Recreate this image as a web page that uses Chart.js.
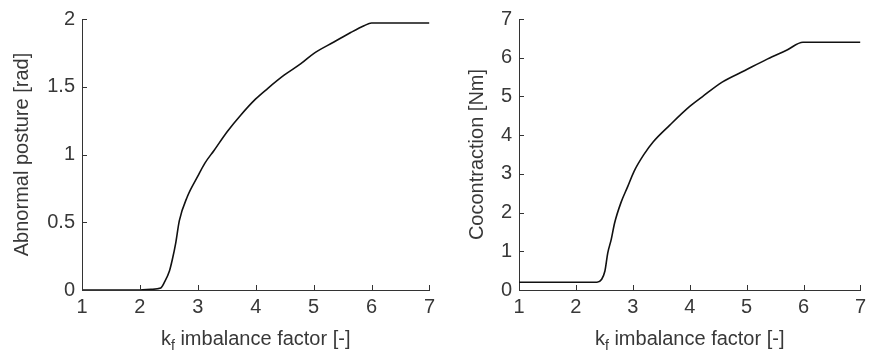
<!DOCTYPE html>
<html>
<head>
<meta charset="utf-8">
<script src="https://cdn.jsdelivr.net/npm/chart.js@4.4.0/dist/chart.umd.min.js"></script>
<style>
    html, body { margin: 0; padding: 0; background: #fff; }
    .panel { position: absolute; top: 0; height: 354px; }
</style>
</head>
<body>
<div class="panel" style="left:0;width:440px"><canvas id="postureChart" width="440" height="354"></canvas></div>
<div class="panel" style="left:440px;width:431px"><canvas id="coconChart" width="431" height="354"></canvas></div>
<script>
// tick labels
const kTicks = [1, 2, 3, 4, 5, 6, 7];
const postureTicks = [0, 0.5, 1, 1.5, 2];
const coconTicks = [0, 1, 2, 3, 4, 5, 6, 7];

// left panel: abnormal posture vs imbalance factor
const postureK   = [1, 2, 2.19, 2.36, 2.42, 2.51, 2.56, 2.62, 2.68, 2.82, 3.0, 3.12, 3.28, 3.51, 3.74, 4.0, 4.2, 4.49, 4.78, 5.0, 5.35, 5.64, 5.87, 6.0, 7];
const postureRad = [0, 0, 0.005, 0.015, 0.054, 0.14, 0.225, 0.35, 0.51, 0.69, 0.84, 0.935, 1.03, 1.17, 1.29, 1.41, 1.485, 1.585, 1.67, 1.745, 1.83, 1.9, 1.95, 1.97, 1.97];

// right panel: cocontraction vs imbalance factor
const coconK  = [1, 2.37, 2.45, 2.51, 2.56, 2.62, 2.68, 2.79, 2.91, 3.02, 3.19, 3.36, 3.65, 3.99, 4.22, 4.57, 4.97, 5.37, 5.71, 5.99, 7];
const coconNm = [0.2, 0.2, 0.27, 0.49, 0.96, 1.3, 1.73, 2.25, 2.67, 3.06, 3.49, 3.83, 4.26, 4.73, 4.99, 5.37, 5.67, 5.97, 6.2, 6.4, 6.4];

const FONT = '"Liberation Sans", Arial, Helvetica, sans-serif';
const TEXT = '#383838';
const AXIS = '#333';
const FSIZE = 20;

Chart.defaults.font.family = FONT;
Chart.defaults.font.size = FSIZE;
Chart.defaults.color = TEXT;

// MATLAB style inward ticks + x title with subscript
const matlabAxes = {
    id: 'matlabAxes',
    afterDraw(chart) {
        const { ctx, chartArea, scales: { x, y } } = chart;
        ctx.save();
        ctx.strokeStyle = AXIS;
        ctx.lineWidth = 1;
        ctx.beginPath();
        x.ticks.forEach(t => {
            const px = Math.round(x.getPixelForValue(t.value)) + 0.5;
            ctx.moveTo(px, chartArea.bottom);
            ctx.lineTo(px, chartArea.bottom - 5);
        });
        y.ticks.forEach(t => {
            const py = Math.round(y.getPixelForValue(t.value)) + 0.5;
            ctx.moveTo(chartArea.left, py);
            ctx.lineTo(chartArea.left + 5, py);
        });
        ctx.stroke();

        // "k_f imbalance factor [-]"
        const big = FSIZE + 'px ' + FONT;
        const small = '14px ' + FONT;
        const rest = ' imbalance factor [-]';
        ctx.fillStyle = TEXT;
        ctx.textBaseline = 'alphabetic';
        ctx.font = big;
        const wK = ctx.measureText('k').width;
        const wRest = ctx.measureText(rest).width;
        ctx.font = small;
        const wF = ctx.measureText('f').width;
        const total = wK + wF + wRest;
        let cx = (chartArea.left + chartArea.right) / 2 - total / 2;
        const base = 345;
        ctx.font = big;
        ctx.fillText('k', cx, base);
        cx += wK;
        ctx.font = small;
        ctx.fillText('f', cx, base + 5);
        cx += wF;
        ctx.font = big;
        ctx.fillText(rest, cx, base);
        ctx.restore();
    }
};

function makeChart(id, xs, ys, yTicks, yMax, yTitle, padLeft, axisWidth, padRight) {
    const canvas = document.getElementById(id);
    if (!canvas) return;
    const points = xs.map((k, i) => ({ x: k, y: ys[i] }));

    new Chart(canvas.getContext('2d'), {
        type: 'line',
        data: {
            datasets: [{
                data: points,
                borderColor: '#111',
                borderWidth: 1.6,
                pointRadius: 0,
                fill: false,
                cubicInterpolationMode: 'monotone'
            }]
        },
        options: {
            responsive: false,
            animation: false,
            layout: { padding: { left: padLeft, right: padRight, top: 18, bottom: 0 } },
            plugins: {
                legend: { display: false },
                tooltip: { enabled: false }
            },
            scales: {
                x: {
                    type: 'linear',
                    min: 1,
                    max: 7,
                    afterBuildTicks: s => { s.ticks = kTicks.map(v => ({ value: v })); },
                    afterFit: s => { s.height = 64; },
                    ticks: { padding: 5, color: TEXT, callback: v => String(v) },
                    grid: { drawOnChartArea: false, drawTicks: false },
                    border: { display: true, color: AXIS, width: 1 }
                },
                y: {
                    type: 'linear',
                    min: 0,
                    max: yMax,
                    afterBuildTicks: s => { s.ticks = yTicks.map(v => ({ value: v })); },
                    afterFit: s => { s.width = axisWidth; },
                    ticks: { padding: 7, color: TEXT, callback: v => String(v) },
                    grid: { drawOnChartArea: false, drawTicks: false },
                    border: { display: true, color: AXIS, width: 1 },
                    title: { display: true, text: yTitle, color: TEXT, padding: 0, font: { size: FSIZE } }
                }
            }
        },
        plugins: [matlabAxes]
    });
}

makeChart('postureChart', postureK, postureRad, postureTicks, 2, 'Abnormal posture [rad]', 10, 72, 10);
makeChart('coconChart', coconK, coconNm, coconTicks, 7, 'Cocontraction [Nm]', 25, 54, 5);
</script>
</body>
</html>
